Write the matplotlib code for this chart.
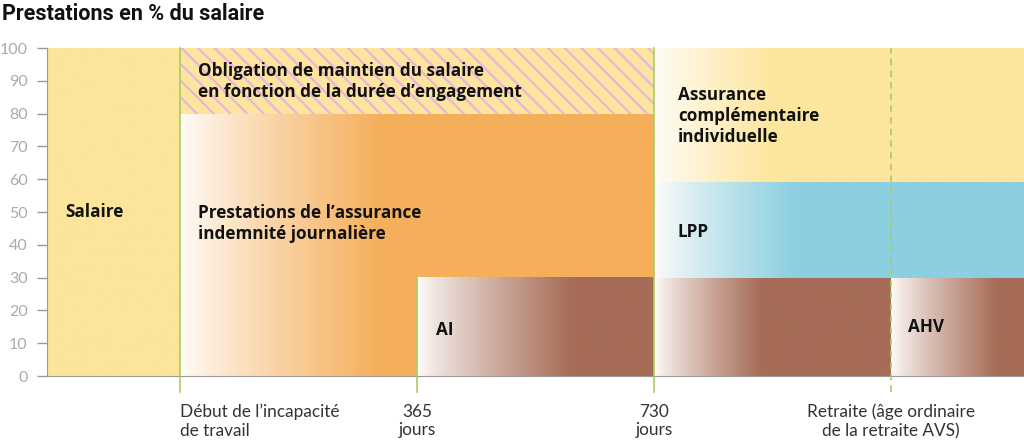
import numpy as np
import matplotlib
matplotlib.use("Agg")
import matplotlib.pyplot as plt
from matplotlib.patches import Rectangle
from matplotlib.colors import to_rgb

plt.rcParams["font.family"] = ["Lato", "DejaVu Sans"]
plt.rcParams["hatch.linewidth"] = 1.6

# phase boundaries on a schematic time axis
phase_x = [0.0, 0.56, 1.56, 2.56, 3.56, 4.12]
phase_labels = ["Début de l\u2019incapacité\nde travail", "365\njours", "730\njours",
                "Retraite (âge ordinaire\nde la retraite AVS)"]

# blocks of benefits
blocks_name = ["salaire", "indemnite", "ai", "ai_suite", "ahv", "lpp", "complementaire"]
blocks_x0 = [0.0, 0.56, 1.56, 2.56, 3.56, 2.56, 2.56]
blocks_x1 = [0.56, 2.56, 2.56, 3.56, 4.12, 4.12, 4.12]
blocks_y0 = [0, 0, 0, 0, 0, 30, 59]
blocks_y1 = [100, 80, 30, 30, 30, 59, 100]
blocks_color = ["#fce59b", "#f5af5b", "#a66c57", "#a66c57", "#a66c57", "#8ccfe0", "#fde69e"]
blocks_fade = [0.0, 0.85, 0.65, 0.45, 0.45, 0.6, 0.5]

# hatched band: salary continuation obligation
oblig_x = [0.56, 2.56]
oblig_y = [80, 100]

labels_text = ["Salaire", "Obligation de maintien du salaire\nen fonction de la durée d\u2019engagement",
               "Prestations de l\u2019assurance\nindemnité journalière", "AI",
               "Assurance\ncomplémentaire\nindividuelle", "LPP", "AHV"]
labels_x = [0.075, 0.635, 0.635, 1.64, 2.66, 2.66, 3.63]
labels_y = [50, 89.8, 46.5, 14, 79.3, 44, 15]

fig = plt.figure(figsize=(10.24, 4.44), dpi=100)
ax = fig.add_axes([47 / 1024, 1 - 376 / 444, 1 - 47 / 1024, 328 / 444])

for name, x0, x1, y0, y1, c, fade in zip(blocks_name, blocks_x0, blocks_x1, blocks_y0,
                                         blocks_y1, blocks_color, blocks_fade):
    xs = np.linspace(x0, x1, 400)
    if fade > 0:
        t = np.clip((xs - x0) / fade, 0, 1) ** 0.85
    else:
        t = np.ones_like(xs)
    rgb = np.array(to_rgb(c))
    start = np.array([1.0, 0.99, 0.98])
    img = start[None, :] * (1 - t[:, None]) + rgb[None, :] * t[:, None]
    ax.imshow(img[None, :, :], extent=[x0, x1, y0, y1], aspect="auto",
              interpolation="bilinear", zorder=1)

ax.add_patch(Rectangle((oblig_x[0], oblig_y[0]), oblig_x[1] - oblig_x[0],
                       oblig_y[1] - oblig_y[0], facecolor="#fde49f",
                       edgecolor="#e8b6d8", hatch="\\\\", linewidth=0, zorder=2))

# phase lines
green = "#a9cc5e"
ax.plot([phase_x[1]] * 2, [-5, 100], color=green, lw=1.2, clip_on=False, zorder=4)
ax.plot([phase_x[2]] * 2, [-5, 30], color=green, lw=1.2, clip_on=False, zorder=4)
ax.plot([phase_x[3]] * 2, [-5, 100], color=green, lw=1.2, clip_on=False, zorder=4)
ax.plot([phase_x[4]] * 2, [-5, 100], color=green, lw=1.2, ls=(0, (4, 3)),
        clip_on=False, zorder=4)

for txt, x, y in zip(labels_text, labels_x, labels_y):
    ax.text(x, y, txt, fontsize=12.3, fontweight="bold", family=["Open Sans", "DejaVu Sans"],
            color="#111111", ha="left", va="center", linespacing=1.22, zorder=5)

ax.set_xlim(phase_x[0], phase_x[-1])
ax.set_ylim(0, 100)
ax.set_yticks(range(0, 101, 10))
ax.tick_params(axis="y", colors="#999999", labelcolor="#aaaaaa", length=7, width=1,
               labelsize=11.5, pad=7)
ax.set_xticks(phase_x[1:5])
ax.set_xticklabels(phase_labels, fontsize=12.4, color="#333333", linespacing=1.2)
ax.tick_params(axis="x", length=0, pad=20)
xl = ax.get_xticklabels()
xl[0].set_ha("left")

for s in ["top", "right"]:
    ax.spines[s].set_visible(False)
ax.spines["left"].set_color("#999999")
ax.spines["bottom"].set_color("#999999")
ax.spines["bottom"].set_zorder(3)

title_fam = ["Liberation Sans Narrow", "Roboto", "DejaVu Sans"]
fig.text(2 / 1024, 1 - 14 / 444, "Prestations en % du salaire", fontsize=15.5,
         fontweight="bold", family=title_fam, color="#111111", ha="left", va="center")

fig.savefig("out.png", dpi=100)
